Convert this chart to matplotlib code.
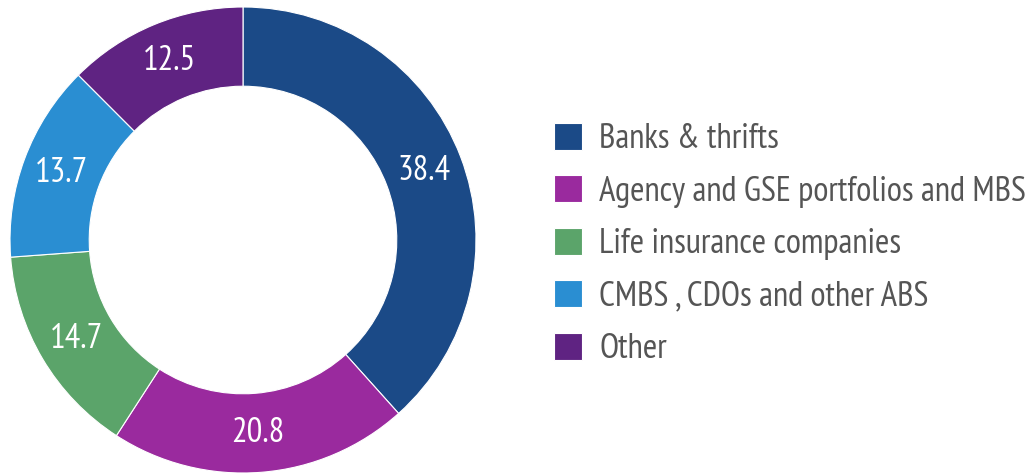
import matplotlib
matplotlib.use("Agg")
import matplotlib.pyplot as plt

categories = ["Banks & thrifts", "Agency and GSE portfolios and MBS",
              "Life insurance companies", "CMBS , CDOs and other ABS", "Other"]
shares = [38.4, 20.8, 14.7, 13.7, 12.5]
colors = ["#1b4a87", "#9a2a9e", "#5ba46a", "#2a8ed2", "#5f2382"]

plt.rcParams["font.family"] = ["PT Sans Narrow", "Roboto Condensed", "DejaVu Sans"]

W, H = 1029, 475
fig = plt.figure(figsize=(W / 100, H / 100), dpi=100)

# donut centred at (243, 240) px from top-left, outer radius 233 px
cx, cy, R = 243, 240, 233
ax = fig.add_axes([(cx - R) / W, (H - cy - R) / H, 2 * R / W, 2 * R / H])
ring = 0.34
wedges, texts = ax.pie(shares, colors=colors, startangle=90, counterclock=False,
                       radius=1, labels=[f"{v:.1f}" for v in shares],
                       labeldistance=1 - ring / 2,
                       wedgeprops=dict(width=ring, edgecolor="white", linewidth=0.8),
                       textprops=dict(color="white", fontsize=25, ha="center", va="center"))
ax.set_xlim(-1, 1)
ax.set_ylim(-1, 1)
ax.set_aspect("equal")
ax.axis("off")

fig.legend(wedges, categories, loc="upper left", bbox_to_anchor=(554 / W, 1 - 123 / H),
           frameon=False, fontsize=25, labelcolor="#555555",
           handlelength=0.8, handleheight=0.8, handletextpad=0.5,
           labelspacing=0.58, borderpad=0, borderaxespad=0)

fig.savefig("out.png", dpi=100)
